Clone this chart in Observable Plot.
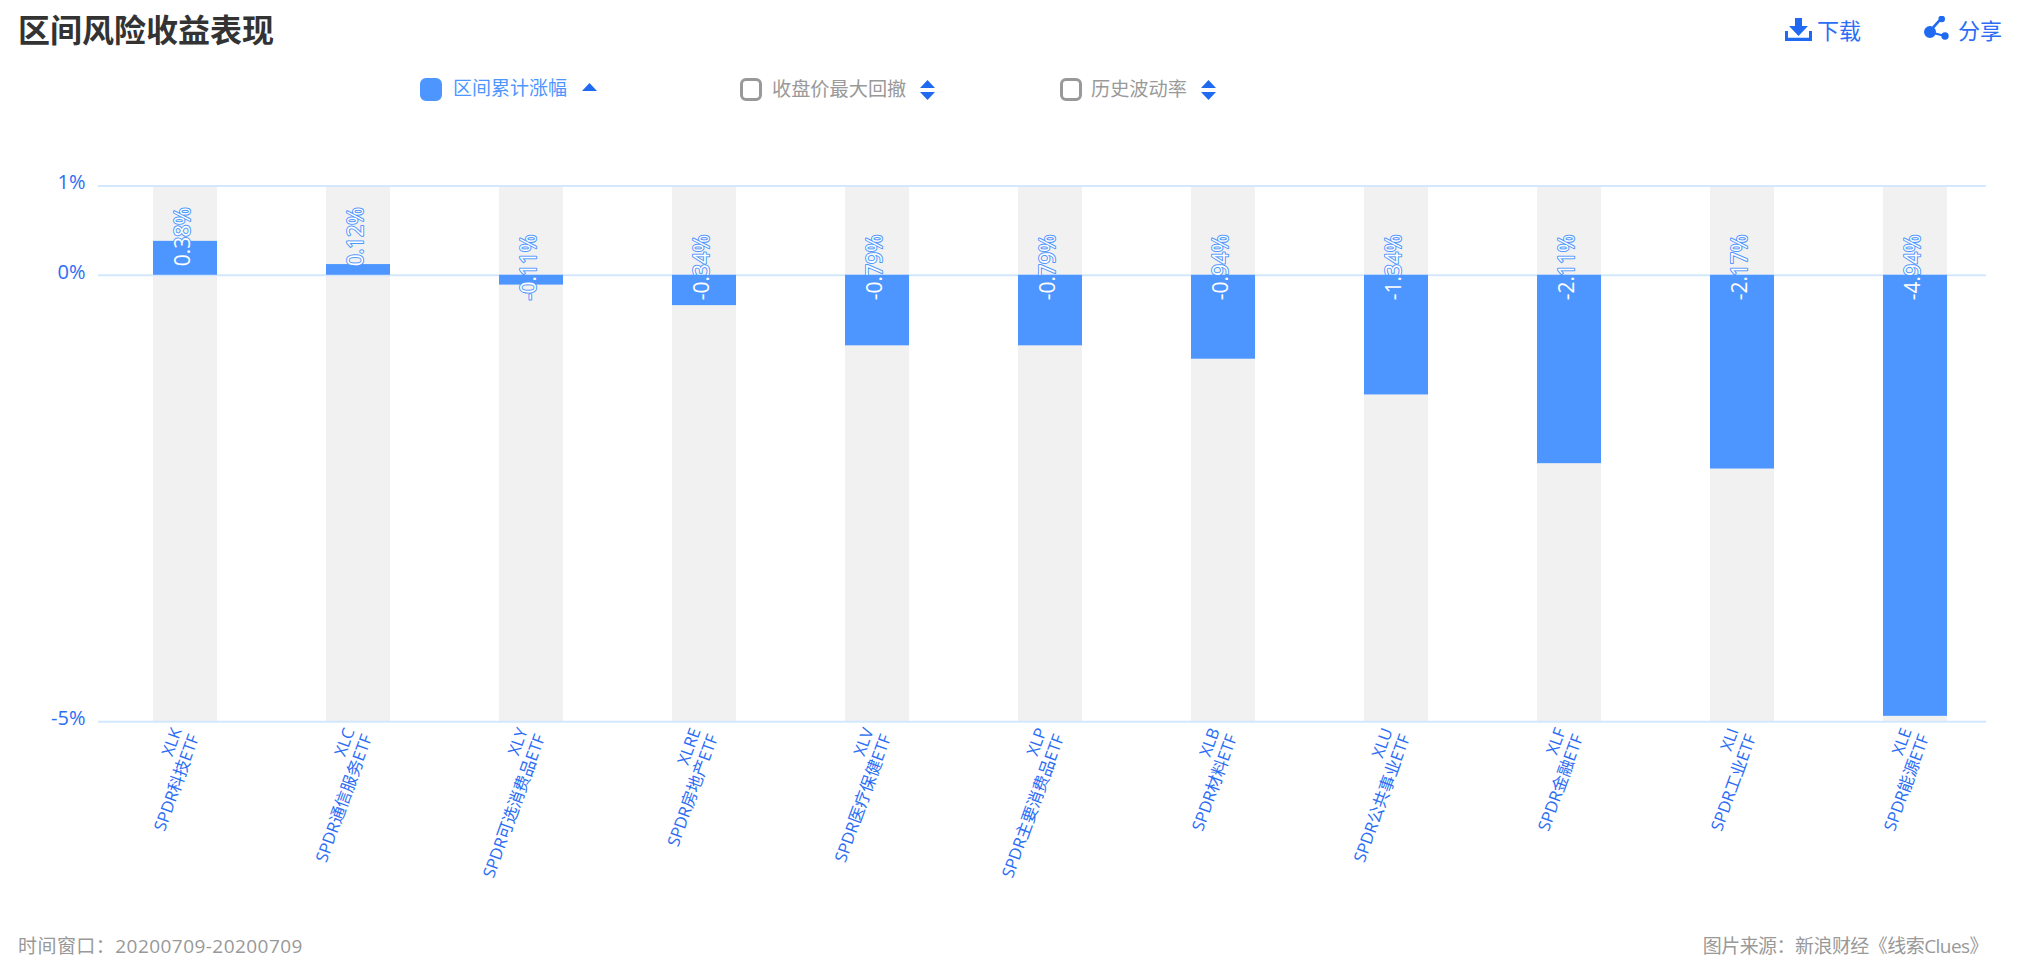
<!DOCTYPE html>
<html lang="zh-CN">
<head>
<meta charset="utf-8">
<script src="https://cdn.jsdelivr.net/npm/d3@7"></script>
<script src="https://cdn.jsdelivr.net/npm/@observablehq/plot@0.6"></script>
<style>
  html, body { margin: 0; padding: 0; background: #fff; overflow: hidden; }
  body { width: 2017px; height: 970px; position: relative; font-family: "Open Sans", "Noto Sans CJK SC", sans-serif; }
  .t { position: absolute; white-space: nowrap; line-height: 1; }
  #title { left: 18px; top: 12px; font-size: 32px; font-weight: 700; color: #333; font-family: "Noto Sans CJK SC", sans-serif; }
  .act { color: #2b6ef5; font-size: 22px; top: 19px; }
  .leg { font-size: 19.2px; top: 79px; color: #999; }
  .box { position: absolute; top: 78px; width: 22px; height: 23px; box-sizing: border-box; border-radius: 6px; border: 3px solid #999; }
  .up, .dn, .ico { position: absolute; background: #1f6af0; }
  .up { width: 15px; height: 8px; clip-path: polygon(50% 0, 100% 100%, 0 100%); }
  .dn { width: 15px; height: 8px; clip-path: polygon(0 0, 100% 0, 50% 100%); }
  #chart { position: absolute; left: 0; top: 140px; }
  .foot { font-size: 19px; color: #999; top: 937px; }
</style>
</head>
<body>
<div class="t" id="title">区间风险收益表现</div>

<div class="ico" style="left:1785px;top:18px;width:27px;height:23px;clip-path:polygon(37% 0,63% 0,63% 35%,85% 35%,50% 78%,15% 35%,37% 35%);"></div>
<div class="ico" style="left:1785px;top:31px;width:27px;height:10px;clip-path:polygon(0 0,11% 0,11% 68%,89% 68%,89% 0,100% 0,100% 100%,0 100%);"></div>
<div class="t act" style="left:1817px;">下载</div>

<div class="ico" style="left:1924px;top:16px;width:26px;height:25px;clip-path:path('M0 16a6 6 0 1 0 12 0a6 6 0 1 0 -12 0ZM14.4 3a3.3 3.3 0 1 0 6.6 0a3.3 3.3 0 1 0 -6.6 0ZM17.3 20a3.7 3.7 0 1 0 7.4 0a3.7 3.7 0 1 0 -7.4 0ZM5 14L7 16L18 3.5L16 2ZM6 15L5.5 17L20.5 21L21 19Z');"></div>
<div class="t act" style="left:1958px;">分享</div>

<div class="box" style="left:420px;background:#4e96ff;border-color:#4e96ff;"></div>
<div class="t leg" style="left:453px;color:#4e96ff;font-size:19px;">区间累计涨幅</div>
<div class="up" style="left:582px;top:83px;"></div>

<div class="box" style="left:740px;"></div>
<div class="t leg" style="left:772px;">收盘价最大回撤</div>
<div class="up" style="left:920px;top:80px;"></div>
<div class="dn" style="left:920px;top:92px;"></div>

<div class="box" style="left:1060px;"></div>
<div class="t leg" style="left:1091px;">历史波动率</div>
<div class="up" style="left:1201px;top:80px;"></div>
<div class="dn" style="left:1201px;top:92px;"></div>

<div id="chart"></div>

<div class="t foot" style="left:18px;letter-spacing:0.45px;">时间窗口：20200709-20200709</div>
<div class="t foot" style="right:29px;letter-spacing:-0.55px;">图片来源：新浪财经《线索Clues》</div>

<script>
const codes = ["XLK","XLC","XLY","XLRE","XLV","XLP","XLB","XLU","XLF","XLI","XLE"];
const names = ["SPDR科技ETF","SPDR通信服务ETF","SPDR可选消费品ETF","SPDR房地产ETF","SPDR医疗保健ETF","SPDR主要消费品ETF","SPDR材料ETF","SPDR公共事业ETF","SPDR金融ETF","SPDR工业ETF","SPDR能源ETF"];
const returns = [0.38,0.12,-0.11,-0.34,-0.79,-0.79,-0.94,-1.34,-2.11,-2.17,-4.94];
const yTicks = [1,0,-5];

const rows = codes.map((code,i)=>({code, name:names[i], value:returns[i]}));
const nameOf = new Map(rows.map(d=>[d.code,d.name]));
const blue = "#4e96ff", tickBlue = "#2b6ef5", grid = "#d3e8fd";

const labelStyle = {
  x:"code", y:()=>0, text:d=>d.value.toFixed(2)+"%", rotate:-90, textAnchor:"start",
  fontSize:21, fill:"#fff", stroke:blue, strokeWidth:2, paintOrder:"stroke", dx:-2
};

const chart = Plot.plot({
  width:2017, height:770,
  marginLeft:98, marginRight:31, marginTop:45.5, marginBottom:188.8,
  style:{fontFamily:'"Open Sans","Noto Sans CJK SC",sans-serif', background:"transparent"},
  x:{type:"band", domain:codes, range:[97.5,2002], paddingInner:0.63, paddingOuter:0.315, label:null},
  y:{domain:[1,-5], range:[45.5,581.2], label:null},
  marks:[
    Plot.barY(rows,{x:"code", y1:()=>1, y2:()=>-5, fill:"#f1f1f1"}),
    Plot.ruleY(yTicks,{stroke:grid, strokeWidth:2}),
    Plot.barY(rows,{x:"code", y1:()=>0, y2:"value", fill:blue}),
    Plot.text(rows,{...labelStyle, filter:d=>d.value>=0, dy:-9}),
    Plot.text(rows,{...labelStyle, filter:d=>d.value<0, dy:25}),
    Plot.axisY({ticks:yTicks, tickSize:0, tickPadding:13, tickFormat:d=>d+"%", fontSize:20, fill:tickBlue, dy:-3, label:null}),
    Plot.axisX({tickRotate:-70, tickSize:0, tickPadding:10, tickFormat:c=>c+"\n"+nameOf.get(c), fontSize:16.6, fill:tickBlue, lineHeight:1.12, dx:-0.5, label:null})
  ]
});
document.getElementById("chart").appendChild(chart);
</script>
</body>
</html>
